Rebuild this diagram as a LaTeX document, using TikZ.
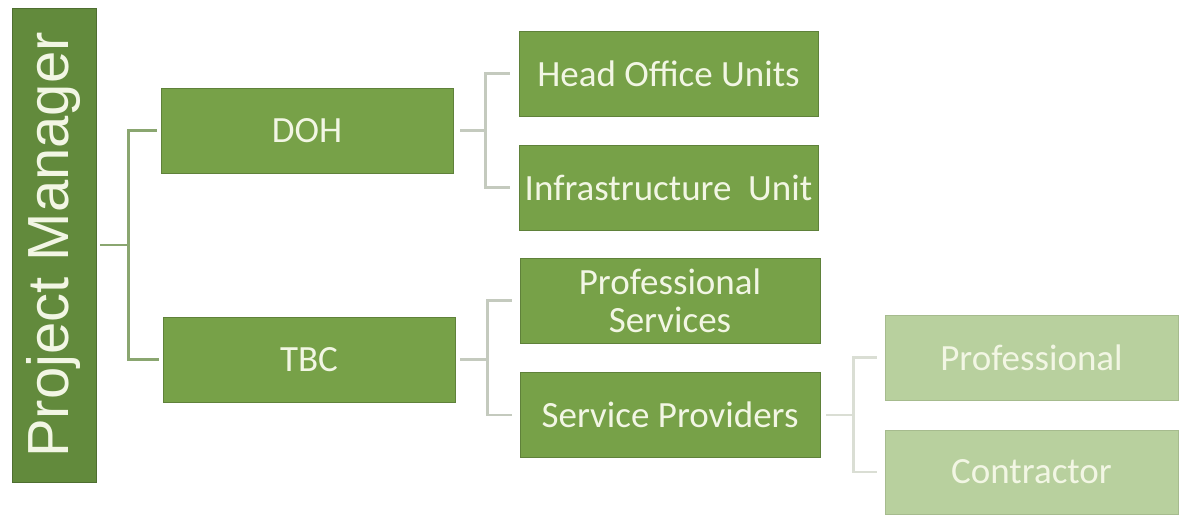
\documentclass[tikz,border=0pt]{standalone}
\usepackage{fontspec}
\setmainfont{Carlito}
\newfontfamily\pmfont{Liberation Sans}
\definecolor{mainG}{RGB}{119,161,72}
\definecolor{pmG}{RGB}{98,138,60}
\definecolor{lightG}{RGB}{184,208,158}
\definecolor{txtW}{RGB}{242,246,228}
\definecolor{connA}{RGB}{138,166,112}
\definecolor{connB}{RGB}{196,202,190}
\definecolor{connC}{RGB}{218,222,212}
\begin{document}
\begin{tikzpicture}[x=1pt,y=-1pt,
  box/.style={rectangle, draw=mainG!80!black, line width=0.6pt, fill=mainG, text=txtW,
    minimum width=297pt, minimum height=85pt, inner sep=0pt, align=center,
    font=\fontsize{37}{38}\selectfont},
  lbox/.style={box, fill=lightG, draw=lightG!90!black},
  conn/.style={line width=2.6pt}]
\useasboundingbox (0,0) rectangle (1180,514);
\node[rectangle, fill=pmG, draw=pmG!80!black, line width=0.6pt, minimum width=84pt, minimum height=474pt,
  inner sep=0pt] (PM) at (54,245) {};
\node[text=txtW, rotate=90, font=\pmfont\fontsize{58}{60}\selectfont, inner sep=0pt] (PMt) at (PM.center) {Project Manager};
\node[box, minimum width=292pt] (DOH) at (307,130.5) {DOH};
\node[box, minimum width=292pt] (TBC) at (309,359.5) {TBC};
\node[box, minimum width=299pt] (HOU) at (668.5,73.5) {Head Office Units};
\node[box, minimum width=299pt] (IU) at (668.5,187.5) {Infrastructure\ \ Unit};
\node[box, minimum width=300pt] (PS) at (670,300.5) {Professional\\Services};
\node[box, minimum width=300pt] (SP) at (670,415) {Service Providers};
\node[lbox, minimum width=293pt] (PR) at (1031.5,357.5) {Professional};
\node[lbox, minimum width=293pt, minimum height=84pt] (CO) at (1031.5,472) {Contractor};
% connectors
\draw[conn, connA] ([xshift=4]PM.east) -- ++(28,0) coordinate (pmj);
\draw[conn, connA] (pmj) |- ([xshift=-4]DOH.west);
\draw[conn, connA] (pmj) |- ([xshift=-4]TBC.west);
\draw[conn, connB] ([xshift=7]DOH.east) -- ++(25,0) coordinate (dj);
\draw[conn, connB] (dj) |- ([xshift=-9]HOU.west);
\draw[conn, connB] (dj) |- ([xshift=-9]IU.west);
\draw[conn, connB] ([xshift=5]TBC.east) -- ++(27,0) coordinate (tj);
\draw[conn, connB] (tj) |- ([xshift=-8]PS.west);
\draw[conn, connB] (tj) |- ([xshift=-8]SP.west);
\draw[conn, connC] ([xshift=6]SP.east) -- ++(27,0) coordinate (sj);
\draw[conn, connC] (sj) |- ([xshift=-8]PR.west);
\draw[conn, connC] (sj) |- ([xshift=-8]CO.west);
\end{tikzpicture}
\end{document}
